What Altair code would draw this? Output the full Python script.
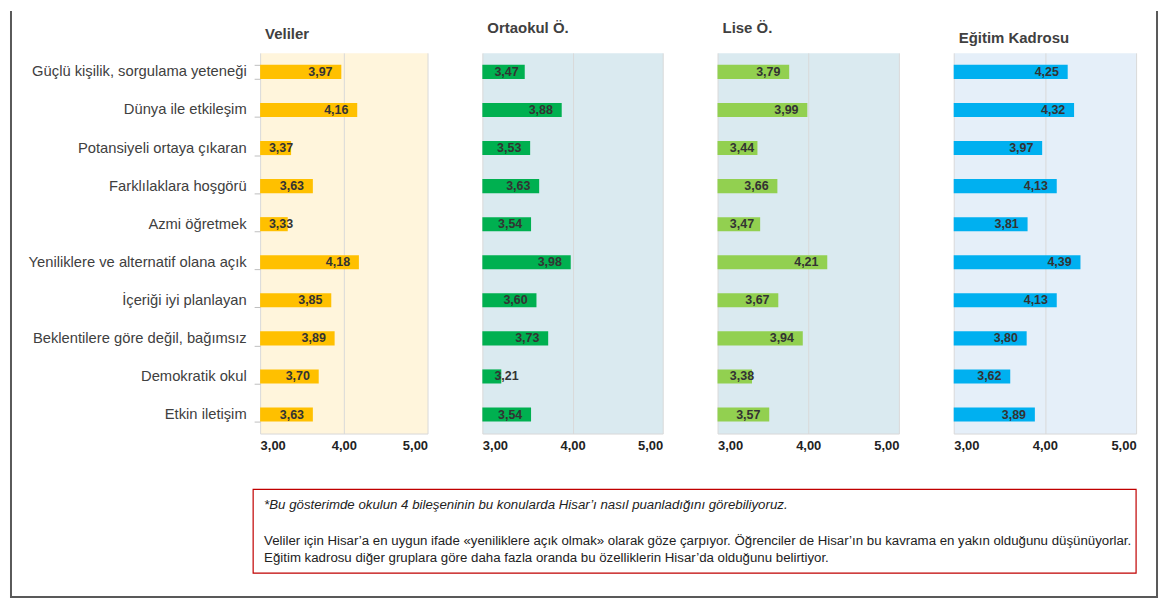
import altair as alt
import pandas as pd

FONT = "Liberation Sans"

categories = [
    "Güçlü kişilik, sorgulama yeteneği",
    "Dünya ile etkileşim",
    "Potansiyeli ortaya çıkaran",
    "Farklılaklara hoşgörü",
    "Azmi öğretmek",
    "Yeniliklere ve alternatif olana açık",
    "İçeriği iyi planlayan",
    "Beklentilere göre değil, bağımsız",
    "Demokratik okul",
    "Etkin iletişim",
]
veliler = [3.97, 4.16, 3.37, 3.63, 3.33, 4.18, 3.85, 3.89, 3.70, 3.63]
ortaokul = [3.47, 3.88, 3.53, 3.63, 3.54, 3.98, 3.60, 3.73, 3.21, 3.54]
lise = [3.79, 3.99, 3.44, 3.66, 3.47, 4.21, 3.67, 3.94, 3.38, 3.57]
egitim = [4.25, 4.32, 3.97, 4.13, 3.81, 4.39, 4.13, 3.80, 3.62, 3.89]

titles = ["Veliler", "Ortaokul Ö.", "Lise Ö.", "Eğitim Kadrosu"]
x_ticks = [3, 4, 5]

note_lines = [
    "*Bu gösterimde okulun 4 bileşeninin bu konularda Hisar’ı nasıl puanladığını görebiliyoruz.",
    "Veliler için Hisar’a en uygun ifade «yeniliklere açık olmak» olarak göze çarpıyor. Öğrenciler de Hisar’ın bu kavrama en yakın olduğunu düşünüyorlar.",
    "Eğitim kadrosu diğer gruplara göre daha fazla oranda bu özelliklerin Hisar’da olduğunu  belirtiyor.",
]


def panel(title, values, bar_color, bg, width, title_offset, show_y, extra=None):
    df = pd.DataFrame({"cat": categories, "v": values})
    base = alt.Chart(df)
    if show_y:
        yaxis = alt.Axis(
            labelFont=FONT, labelFontSize=14.8, labelColor="#404040",
            labelPadding=8, tickBand="extent", tickColor="#bfbfbf",
            tickSize=6, domain=False, labelLimit=320,
        )
    else:
        yaxis = None
    y = alt.Y("cat:N", sort=categories, title=None,
              scale=alt.Scale(paddingInner=0.63, paddingOuter=0.315),
              axis=yaxis)
    xaxis = alt.Axis(
        values=x_ticks,
        labelExpr="replace(format(datum.value, '.2f'), '.', ',')",
        grid=True, gridColor="#d9d9d9", domainColor="#d9d9d9",
        ticks=False, labelFlush=True, labelFontWeight="bold",
        labelFontSize=13, labelColor="#222222", labelFont=FONT,
        labelPadding=6,
    )
    xscale = alt.Scale(domain=[3, 5], zero=False, nice=False)
    bars = base.mark_bar(color=bar_color).encode(
        x=alt.X("v:Q", scale=xscale, axis=xaxis, title=None),
        x2=alt.datum(3),
        y=y,
    )
    labels = base.transform_calculate(
        lab="replace(format(datum.v, '.2f'), '.', ',')",
        pos="max(datum.v, 3.5)",
    ).mark_text(
        dx=-21, align="center", baseline="middle", fontWeight="bold",
        fontSize=12.5, color="#333333", font=FONT,
    ).encode(
        x=alt.X("pos:Q", scale=xscale, axis=xaxis, title=None),
        y=y,
        text="lab:N",
    )
    layers = [bars, labels]
    if extra:
        layers += extra
    props = dict(
        width=width, height=382,
        view=alt.ViewBackground(fill=bg, stroke="transparent"),
    )
    if title is not None:
        props["title"] = alt.TitleParams(
            title, anchor="start", dx=5, offset=title_offset, fontSize=15,
            fontWeight="bold", color="#404040", font=FONT,
        )
    return alt.layer(*layers).properties(**props)


deco_src = alt.Chart(alt.Data(values=[{}]))
FRAME = "#595959"
NOTE_SIZE = 13.3
deco = [
    deco_src.mark_rule(color=FRAME, strokeWidth=2).encode(
        x=alt.value(-250), y=alt.value(-42), y2=alt.value(547)),
    deco_src.mark_rule(color=FRAME, strokeWidth=2).encode(
        x=alt.value(900), y=alt.value(-42), y2=alt.value(547)),
    deco_src.mark_rule(color=FRAME, strokeWidth=2).encode(
        x=alt.value(-251), x2=alt.value(901), y=alt.value(546)),
    deco_src.mark_rect(fillOpacity=0, stroke="#C00000", strokeWidth=1.2).encode(
        x=alt.value(-7), x2=alt.value(879), y=alt.value(438), y2=alt.value(522)),
    deco_src.mark_text(align="left", baseline="alphabetic", fontSize=15,
                       fontWeight="bold", font=FONT, color="#404040").encode(
        x=alt.value(5), y=alt.value(-13.5), text=alt.value(titles[0])),
    deco_src.mark_text(align="left", baseline="middle", fontStyle="italic",
                       fontSize=NOTE_SIZE, font=FONT, color="#222222").encode(
        x=alt.value(4), y=alt.value(454), text=alt.value(note_lines[0])),
    deco_src.mark_text(align="left", baseline="middle",
                       fontSize=NOTE_SIZE, font=FONT, color="#222222").encode(
        x=alt.value(4), y=alt.value(490), text=alt.value(note_lines[1])),
    deco_src.mark_text(align="left", baseline="middle",
                       fontSize=NOTE_SIZE, font=FONT, color="#222222").encode(
        x=alt.value(4), y=alt.value(507), text=alt.value(note_lines[2])),
]

p1 = panel(None, veliler, "#FFC000", "#FFF5DC", 168, 13, True, deco)
p2 = panel(titles[1], ortaokul, "#00B050", "#DAEAF0", 181, 17, False)
p3 = panel(titles[2], lise, "#92D050", "#DAEAF0", 182, 17, False)
p4 = panel(titles[3], egitim, "#00B0F0", "#E5EFF9", 183, 7, False)

chart = alt.hconcat(p1, p2, p3, p4, spacing=55, bounds="flush", padding=0,
                    background="white")

chart.save("out.html", embed_options={"renderer": "svg", "actions": False})
